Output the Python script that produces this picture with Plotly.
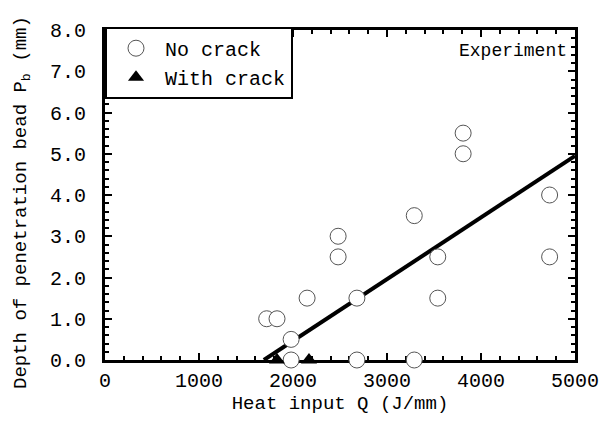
import plotly.graph_objects as go

# Data
no_crack_q = [1720, 1830, 1980, 1980, 2150, 2480, 2480, 2680, 2680, 3290, 3290, 3540, 3540, 3810, 3810, 4730, 4730]
no_crack_pb = [1.0, 1.0, 0.5, 0.0, 1.5, 3.0, 2.5, 1.5, 0.0, 3.5, 0.0, 2.5, 1.5, 5.5, 5.0, 4.0, 2.5]
crack_q = [1830, 2170]
crack_pb = [0.0, 0.0]
fit_q = [1690, 5000]
fit_pb = [0.0, 4.95]

FONT = "Liberation Mono"

fig = go.Figure()
fig.add_trace(go.Scatter(x=fit_q, y=fit_pb, mode="lines",
                         line=dict(color="black", width=4), showlegend=False,
                         cliponaxis=False))
fig.add_trace(go.Scatter(x=no_crack_q, y=no_crack_pb, mode="markers", name="No crack",
                         marker=dict(symbol="circle", size=16, color="white",
                                     line=dict(color="#555", width=1)),
                         cliponaxis=False))
fig.add_trace(go.Scatter(x=crack_q, y=crack_pb, mode="markers", name="With crack",
                         marker=dict(symbol="triangle-up", size=14, color="black",
                                     line=dict(color="black", width=0)),
                         cliponaxis=False))

axis_common = dict(showline=True, linecolor="black", linewidth=3, mirror="allticks",
                   ticks="inside", ticklen=7, tickwidth=2, tickcolor="black",
                   showgrid=False, zeroline=False, layer="below traces",
                   automargin=False,
                   tickfont=dict(family=FONT, size=20, color="black"))

fig.update_xaxes(range=[0, 5000], dtick=1000, tick0=0,
                 minor=dict(dtick=200, ticks="inside", ticklen=4, tickwidth=2, tickcolor="black"),
                 title=dict(text="Heat input Q (J/mm)", font=dict(family=FONT, size=19, color="black"),
                            standoff=4),
                 **axis_common)
fig.update_yaxes(range=[0, 8], dtick=1.0, tick0=0, tickformat=".1f", ticksuffix="\u00a0",
                 minor=dict(dtick=0.2, ticks="inside", ticklen=4, tickwidth=2, tickcolor="black"),
                 **axis_common)

# y-axis title as a rotated annotation for exact placement
fig.add_annotation(x=0, y=0.5, xref="paper", yref="paper", xanchor="center", yanchor="middle",
                   xshift=-83, yshift=-8, textangle=-90, showarrow=False,
                   text="Depth of penetration bead P<sub>b</sub> (mm)",
                   font=dict(family=FONT, size=19, color="black"))

fig.add_annotation(x=1, y=1, xref="paper", yref="paper", xanchor="right", yanchor="top",
                   xshift=-6, yshift=-9, showarrow=False, text="Experiment",
                   font=dict(family=FONT, size=18, color="black"))

fig.update_layout(
    width=612, height=423,
    margin=dict(l=105, r=37, t=30, b=63),
    paper_bgcolor="white", plot_bgcolor="white",
    legend=dict(x=0, y=1.01, xanchor="left", yanchor="top", bgcolor="white",
                bordercolor="black", borderwidth=2,
                font=dict(family=FONT, size=20, color="black"),
                itemwidth=48),
)

fig.write_html("out.html", config={"displayModeBar": False},
               post_script="document.body.style.margin='0px';")
